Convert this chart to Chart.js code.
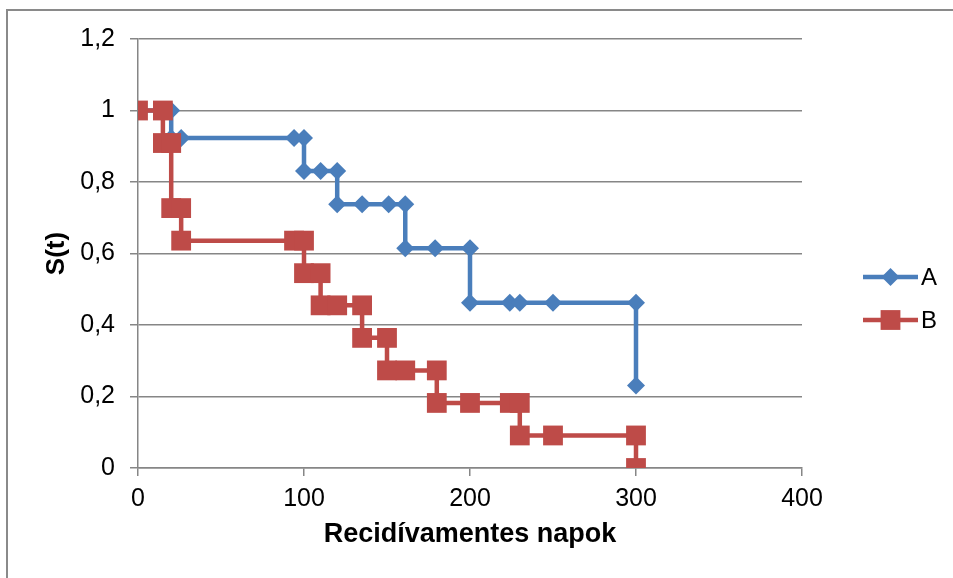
<!DOCTYPE html>
<html>
<head>
<meta charset="utf-8">
<script src="https://cdn.jsdelivr.net/npm/chart.js@4"></script>
<style>
    body { margin: 0; background: #fff; }
    #wrap { width: 953px; height: 578px; }
</style>
</head>
<body>
<div id="wrap"><canvas id="kmChart" width="953" height="578"></canvas></div>
<script>
// Data
const seriesNames = ['A', 'B'];
const aDays = [0, 20, 20, 26, 94, 100, 100, 110, 120, 120, 135, 151, 161, 161, 179, 200, 200, 224, 230, 250, 300, 300];
const aSurv = [1, 1, 0.923, 0.923, 0.923, 0.923, 0.831, 0.831, 0.831, 0.738, 0.738, 0.738, 0.738, 0.615, 0.615, 0.615, 0.462, 0.462, 0.462, 0.462, 0.462, 0.231];
const bDays = [0, 15, 15, 20, 20, 26, 26, 94, 100, 100, 110, 110, 120, 135, 135, 150, 150, 161, 180, 180, 200, 224, 230, 230, 250, 300, 300];
const bSurv = [1, 1, 0.909, 0.909, 0.727, 0.727, 0.636, 0.636, 0.636, 0.545, 0.545, 0.455, 0.455, 0.455, 0.364, 0.364, 0.273, 0.273, 0.273, 0.182, 0.182, 0.182, 0.182, 0.091, 0.091, 0.091, 0];
const yTickLabels = ['0', '0,2', '0,4', '0,6', '0,8', '1', '1,2'];
const xTickLabels = ['0', '100', '200', '300', '400'];

const FONT = '"Liberation Sans", Arial, sans-serif';
const GRID = '#868686';

const toPoints = (xs, ys) => xs.map((x, i) => ({ x: x, y: ys[i] }));

// white background + the chart border (cut off at right/bottom)
const framePlugin = {
    id: 'frame',
    beforeDraw(chart) {
        const ctx = chart.ctx;
        ctx.save();
        ctx.fillStyle = '#fff';
        ctx.fillRect(0, 0, chart.width, chart.height);
        ctx.strokeStyle = '#8a8a8a';
        ctx.lineWidth = 2;
        ctx.beginPath();
        ctx.moveTo(7, chart.height);
        ctx.lineTo(7, 10);
        ctx.lineTo(chart.width, 10);
        ctx.stroke();
        ctx.restore();
    }
};

// legend: line sample with marker, then name
const legendPlugin = {
    id: 'lineLegend',
    afterDraw(chart) {
        const ctx = chart.ctx;
        const rows = [277, 320];
        chart.data.datasets.forEach((ds, i) => {
            const y = rows[i];
            ctx.save();
            ctx.strokeStyle = ds.borderColor;
            ctx.lineWidth = ds.borderWidth;
            ctx.beginPath();
            ctx.moveTo(863, y);
            ctx.lineTo(918, y);
            ctx.stroke();
            ctx.fillStyle = ds.pointBackgroundColor;
            ctx.strokeStyle = ds.pointBackgroundColor;
            Chart.helpers.drawPoint(ctx, { pointStyle: ds.pointStyle, radius: ds.pointRadius, rotation: 0, borderWidth: 0 }, 890.5, y);
            ctx.fillStyle = '#000';
            ctx.font = '24px ' + FONT;
            ctx.textBaseline = 'middle';
            ctx.textAlign = 'left';
            ctx.fillText(ds.label, 921, y + 1);
            ctx.restore();
        });
    }
};

new Chart(document.getElementById('kmChart').getContext('2d'), {
    type: 'scatter',
    data: {
        datasets: [
            {
                label: seriesNames[0],
                data: toPoints(aDays, aSurv),
                showLine: true,
                borderColor: '#4a7ebb',
                borderWidth: 4.5,
                pointStyle: 'rectRot',
                pointRadius: 9,
                pointBorderWidth: 0,
                pointBackgroundColor: '#4a7ebb',
                order: 1
            },
            {
                label: seriesNames[1],
                data: toPoints(bDays, bSurv),
                showLine: true,
                borderColor: '#be4b48',
                borderWidth: 4.5,
                pointStyle: 'rect',
                pointRadius: 14,
                pointBorderWidth: 0,
                pointBackgroundColor: '#be4b48',
                order: 0
            }
        ]
    },
    options: {
        responsive: false,
        animation: false,
        devicePixelRatio: 1,
        layout: { padding: { top: 39, right: 151, left: 0, bottom: 0 } },
        plugins: { legend: { display: false }, tooltip: { enabled: false } },
        scales: {
            x: {
                type: 'linear',
                min: 0,
                max: 400,
                afterFit: s => { s.height = 110; },
                ticks: {
                    stepSize: 100,
                    padding: 8,
                    color: '#000',
                    font: { family: FONT, size: 25 },
                    callback: (v, i) => xTickLabels[i]
                },
                grid: { drawOnChartArea: false, drawTicks: true, tickLength: 8, color: GRID, lineWidth: 1.5 },
                border: { color: GRID, width: 1.5 },
                title: {
                    display: true,
                    text: 'Recidívamentes napok',
                    color: '#000',
                    font: { family: FONT, size: 27, weight: 'bold' },
                    padding: { top: 0, bottom: 27 }
                }
            },
            y: {
                min: 0,
                max: 1.2,
                afterFit: s => { s.width = 138; },
                ticks: {
                    stepSize: 0.2,
                    padding: 15,
                    color: '#000',
                    font: { family: FONT, size: 25 },
                    callback: (v, i) => yTickLabels[i]
                },
                grid: { color: GRID, lineWidth: 1.5, tickLength: 8 },
                border: { color: GRID, width: 1.5 },
                title: {
                    display: true,
                    text: 'S(t)',
                    color: '#000',
                    font: { family: FONT, size: 26, weight: 'bold' },
                    padding: { top: 41, bottom: 0 }
                }
            }
        }
    },
    plugins: [framePlugin, legendPlugin]
});
</script>
</body>
</html>
